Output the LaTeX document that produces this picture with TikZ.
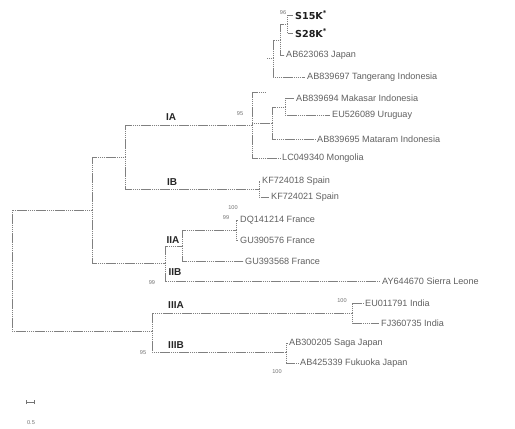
\documentclass[tikz,border=0pt]{standalone}
\usepackage{fontspec}
\setmainfont{Liberation Sans}
\newfontfamily\samplefont{DejaVu Sans}
\begin{document}
\begin{tikzpicture}[x=1pt,y=-1pt,
  br/.style={draw=black!50,line width=0.6pt,dash pattern=on 1.4pt off 0.5pt},
  leaf/.style={anchor=west,inner xsep=2pt,inner ysep=0pt,font=\fontsize{9.1}{10}\selectfont,text=black!62},
  samp/.style={anchor=west,inner xsep=2pt,inner ysep=0pt,font=\samplefont\fontsize{9.6}{11}\selectfont\bfseries,text=black!88},
  sup/.style={inner sep=0pt,font=\fontsize{5.6}{6}\selectfont,text=black!55},
  clade/.style={inner sep=0pt,font=\fontsize{10}{11}\selectfont\bfseries,text=black!85}]
\useasboundingbox (0,0) rectangle (515,429);
\fill[white] (0,0) rectangle (515,429);

% internal nodes
\coordinate (root) at (12,270);
\coordinate (n92) at (92,210);
\coordinate (n125) at (125,157);
\coordinate (nIA) at (252,125);
\coordinate (nIB) at (259,189);
\coordinate (ntop) at (265,92);
\coordinate (nastub) at (267,58);
\coordinate (na) at (273,58);
\coordinate (nb) at (280,40);
\coordinate (nc) at (287,24);
\coordinate (nm1) at (272,123);
\coordinate (nm2) at (285,107);
\coordinate (nII) at (165,263);
\coordinate (nIIA) at (182,246);
\coordinate (nDQ) at (236,230);
\coordinate (nIII) at (152,331);
\coordinate (nIIIA) at (352,313);
\coordinate (nIIIB) at (286,352);

% leaves
\node[samp] (s15) at (293,15) {S15K\textsuperscript{*}};
\node[samp] (s28) at (293,33) {S28K\textsuperscript{*}};
\node[leaf] (l1) at (284,55) {AB623063 Japan};
\node[leaf] (l2) at (305,77) {AB839697 Tangerang Indonesia};
\node[leaf] (l3) at (294,98) {AB839694 Makasar Indonesia};
\node[leaf] (l4) at (330,115) {EU526089 Uruguay};
\node[leaf] (l5) at (315,139) {AB839695 Mataram Indonesia};
\node[leaf] (l6) at (280,158) {LC049340 Mongolia};
\node[leaf] (l7) at (260,181) {KF724018 Spain};
\node[leaf] (l8) at (269,197) {KF724021 Spain};
\node[leaf] (l9) at (238,220) {DQ141214 France};
\node[leaf] (l10) at (238,240) {GU390576 France};
\node[leaf] (l11) at (243,261) {GU393568 France};
\node[leaf] (l12) at (380,281) {AY644670 Sierra Leone};
\node[leaf] (l13) at (363,303) {EU011791 India};
\node[leaf] (l14) at (379,323) {FJ360735 India};
\node[leaf] (l15) at (287,343) {AB300205 Saga Japan};
\node[leaf] (l16) at (298,363) {AB425339 Fukuoka Japan};

% branches
\draw[br] (root) |- (n92);
\draw[br] (root) |- (nIII);
\draw[br] (n92) |- (n125);
\draw[br] (n92) |- (nII);
\draw[br] (n125) |- (nIA);
\draw[br] (n125) |- (nIB);
\draw[br] (nIA) |- (ntop);
\draw[br] (nIA) |- (nm1);
\draw[br] (nIA) |- (l6.west);
\draw[br] (nastub) -- (na);
\draw[br] (na) |- (nb);
\draw[br] (na) |- (l2.west);
\draw[br] (nb) |- (nc);
\draw[br] (nb) |- (l1.west);
\draw[br] (nc) |- (s15.west);
\draw[br] (nc) |- (s28.west);
\draw[br] (nm1) |- (nm2);
\draw[br] (nm1) |- (l5.west);
\draw[br] (nm2) |- (l3.west);
\draw[br] (nm2) |- (l4.west);
\draw[br] (nIB) |- (l7.west);
\draw[br] (nIB) |- (l8.west);
\draw[br] (nII) |- (nIIA);
\draw[br] (nII) |- (l12.west);
\draw[br] (nIIA) |- (nDQ);
\draw[br] (nIIA) |- (l11.west);
\draw[br] (nDQ) |- (l9.west);
\draw[br] (nDQ) |- (l10.west);
\draw[br] (nIII) |- (nIIIA);
\draw[br] (nIII) |- (nIIIB);
\draw[br] (nIIIA) |- (l13.west);
\draw[br] (nIIIA) |- (l14.west);
\draw[br] (nIIIB) |- (l15.west);
\draw[br] (nIIIB) |- (l16.west);

% clade labels
\node[clade] (cIA) at (171,117) {IA};
\node[clade] (cIB) at (172,182) {IB};
\node[clade] (cIIA) at (173,240) {IIA};
\node[clade] (cIIB) at (175,272) {IIB};
\node[clade] (cIIIA) at (176,305) {IIIA};
\node[clade] (cIIIB) at (176,345) {IIIB};

% support values
\node[sup] (b1) at (283,13) {96};
\node[sup] (b2) at (240,114) {95};
\node[sup] (b3) at (233,208) {100};
\node[sup] (b4) at (226,218) {99};
\node[sup] (b5) at (152,283) {99};
\node[sup] (b6) at (342,301) {100};
\node[sup] (b7) at (143,353) {95};
\node[sup] (b8) at (277,372) {100};

% scale bar
\coordinate (sb1) at (26,402);
\coordinate (sb2) at (34,402);
\draw[draw=black!55,line width=0.6pt] (sb1) -- (sb2);
\draw[draw=black!55,line width=0.6pt] ([yshift=-2pt]sb1) -- ([yshift=2pt]sb1);
\draw[draw=black!55,line width=0.6pt] ([yshift=-2pt]sb2) -- ([yshift=2pt]sb2);
\node[sup] (sbl) at (31,423) {0.5};
\end{tikzpicture}
\end{document}
